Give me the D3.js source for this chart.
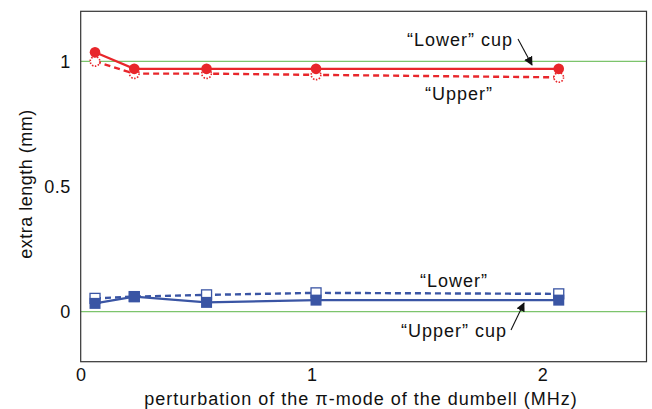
<!DOCTYPE html>
<html>
<head>
<meta charset="utf-8">
<script src="https://cdn.jsdelivr.net/npm/d3@7"></script>
<style>
  body { margin: 0; background: #fff; }
  text { font-family: "Liberation Sans", Arial, Helvetica, sans-serif; fill: #111; }
</style>
</head>
<body>
<svg id="chart" width="652" height="409"></svg>
<script>
// data
var freq = [0.062, 0.232, 0.545, 1.019, 2.07];
var redLowerCup = [1.036, 0.970, 0.970, 0.970, 0.970];
var redUpper = [1.0, 0.951, 0.951, 0.946, 0.936];
var blueUpperCup = [0.033, 0.06, 0.037, 0.046, 0.046];
var blueLower = [0.053, 0.06, 0.067, 0.075, 0.071];
var xTicks = [0, 1, 2];
var yTicks = [0, 0.5, 1];
var refLines = [0, 1];

var svg = d3.select("#chart");
var W = 652, H = 409;
var FS = 18, LS = 1;

var x = d3.scaleLinear().domain([0, 2.45]).range([80.7, 646.5]);
var y = d3.scaleLinear().domain([-0.2, 1.2]).range([361.7, 11.3]);

var RED = "#e8262b", BLUE = "#3a55a4", GREEN = "#7cc46c";

// reference lines
svg.selectAll(".ref").data(refLines).enter().append("line")
  .attr("x1", x(0)).attr("x2", x(2.45))
  .attr("y1", d => y(d)).attr("y2", d => y(d))
  .attr("stroke", GREEN).attr("stroke-width", 1.3);

// frame
svg.append("rect")
  .attr("x", x(0)).attr("y", y(1.2))
  .attr("width", x(2.45) - x(0)).attr("height", y(-0.2) - y(1.2))
  .attr("fill", "none").attr("stroke", "#333").attr("stroke-width", 1.2);

// axes (labels only, no tick marks)
var xAxis = svg.append("g").attr("transform", "translate(0," + y(-0.2) + ")")
  .call(d3.axisBottom(x).tickValues(xTicks).tickFormat(d3.format("d")).tickSize(0).tickPadding(7));
var yAxis = svg.append("g").attr("transform", "translate(" + x(0) + ",0)")
  .call(d3.axisLeft(y).tickValues(yTicks).tickFormat(d => d === 0.5 ? "0.5" : d).tickSize(0).tickPadding(10));
[xAxis, yAxis].forEach(function(g) {
  g.select(".domain").remove();
  g.selectAll("text").attr("font-size", FS).attr("fill", "#111").attr("letter-spacing", 0.5)
    .style("font-family", "'Liberation Sans', Arial, sans-serif");
});

svg.append("text").attr("x", 361).attr("y", 405).attr("text-anchor", "middle")
  .attr("font-size", FS).attr("letter-spacing", LS)
  .text("perturbation of the π-mode of the dumbell (MHz)");
svg.append("text").attr("transform", "translate(32,184) rotate(-90)")
  .attr("text-anchor", "middle").attr("font-size", FS).attr("letter-spacing", 0.5)
  .text("extra length (mm)");

function pts(vals) { return freq.map((f, i) => [f, vals[i]]); }
var line = d3.line().x(d => x(d[0])).y(d => y(d[1]));

// red: open (dotted) circles + dashed line
svg.append("path").datum(pts(redUpper)).attr("d", line)
  .attr("fill", "none").attr("stroke", RED).attr("stroke-width", 2.4).attr("stroke-dasharray", "6,4");
svg.selectAll(".ro").data(pts(redUpper)).enter().append("circle")
  .attr("cx", d => x(d[0])).attr("cy", d => y(d[1])).attr("r", 4.8)
  .attr("fill", "#fff").attr("stroke", RED).attr("stroke-width", 1.6).attr("stroke-dasharray", "1.5,1.5");
svg.append("path").datum(pts(redLowerCup)).attr("d", line)
  .attr("fill", "none").attr("stroke", RED).attr("stroke-width", 2.2);
svg.selectAll(".rf").data(pts(redLowerCup)).enter().append("circle")
  .attr("cx", d => x(d[0])).attr("cy", d => y(d[1])).attr("r", 5.3).attr("fill", RED);

// blue: open squares + dashed line, filled squares + solid line
svg.append("path").datum(pts(blueLower)).attr("d", line)
  .attr("fill", "none").attr("stroke", BLUE).attr("stroke-width", 2.4).attr("stroke-dasharray", "6,4");
svg.selectAll(".bo").data(pts(blueLower)).enter().append("rect")
  .attr("x", d => x(d[0]) - 5).attr("y", d => y(d[1]) - 5).attr("width", 10).attr("height", 10)
  .attr("fill", "#fff").attr("stroke", BLUE).attr("stroke-width", 1.3);
svg.append("path").datum(pts(blueUpperCup)).attr("d", line)
  .attr("fill", "none").attr("stroke", BLUE).attr("stroke-width", 2.2);
svg.selectAll(".bf").data(pts(blueUpperCup)).enter().append("rect")
  .attr("x", d => x(d[0]) - 5.5).attr("y", d => y(d[1]) - 5.5).attr("width", 11).attr("height", 11)
  .attr("fill", BLUE);

// annotations
svg.append("defs").append("marker").attr("id", "arr")
  .attr("viewBox", "0 0 10 10").attr("refX", 9).attr("refY", 5)
  .attr("markerWidth", 9).attr("markerHeight", 9).attr("orient", "auto")
  .attr("markerUnits", "userSpaceOnUse")
  .append("path").attr("d", "M0,0 L10,5 L0,10 Z").attr("fill", "#111");

function note(tx, ty, label) {
  svg.append("text").attr("x", tx).attr("y", ty).attr("text-anchor", "middle")
    .attr("font-size", FS).attr("letter-spacing", LS).text(label);
}
note(460, 46, "\u201cLower\u201d cup");
note(459, 100, "\u201cUpper\u201d");
note(454, 287, "\u201cLower\u201d");
note(454, 337, "\u201cUpper\u201d cup");

svg.append("line").attr("x1", 518).attr("y1", 39).attr("x2", 532).attr("y2", 65)
  .attr("stroke", "#111").attr("stroke-width", 1.1).attr("marker-end", "url(#arr)");
svg.append("line").attr("x1", 511).attr("y1", 330).attr("x2", 524).attr("y2", 303)
  .attr("stroke", "#111").attr("stroke-width", 1.1).attr("marker-end", "url(#arr)");
</script>
</body>
</html>
